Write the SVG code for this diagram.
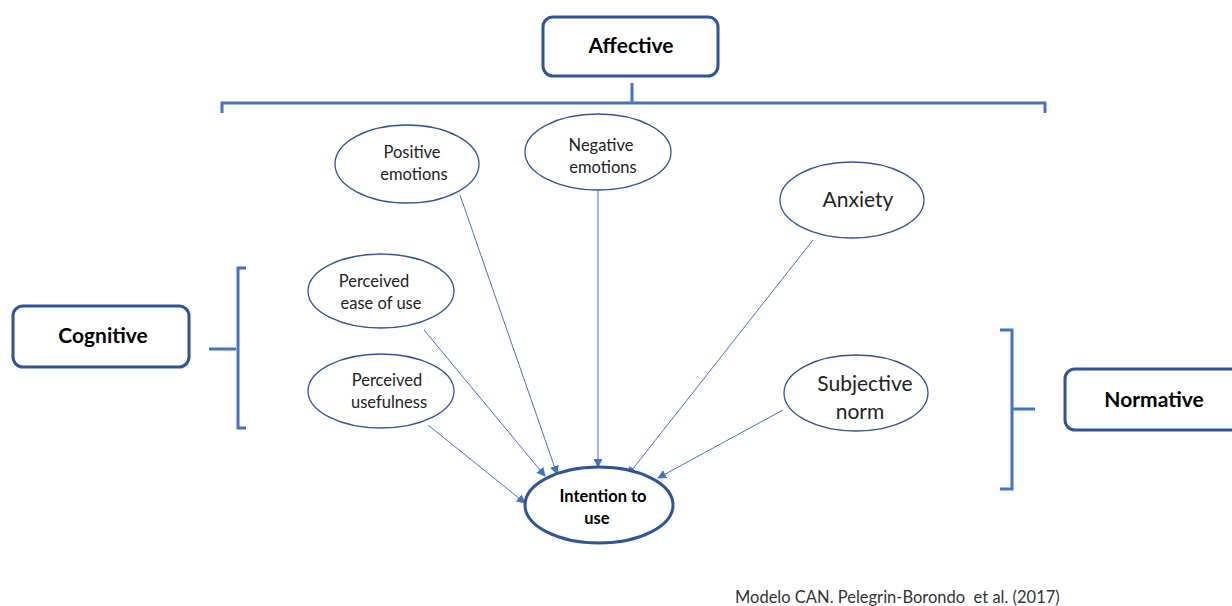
<svg xmlns="http://www.w3.org/2000/svg" width="1232" height="606" viewBox="0 0 1232 606">
  <style>
    .box { fill: #ffffff; stroke: #2f5597; stroke-width: 3; }
    .oval { fill: #ffffff; stroke: #2f5597; stroke-width: 1.3; }
    .goal { fill: #ffffff; stroke: #2f5597; stroke-width: 3; }
    .brace { fill: none; stroke: #4472c4; stroke-width: 3; }
    .edge { fill: none; stroke: #4472c4; stroke-width: 1; marker-end: url(#arrow); }
    .head { font-family: Lato, "Open Sans", "Liberation Sans", sans-serif; font-weight: bold; font-size: 21px; fill: #000; text-anchor: middle; }
    .lbl { font-family: Lato, "Open Sans", "Liberation Sans", sans-serif; font-size: 16.5px; fill: #222; text-anchor: middle; }
    .lbl-big { font-family: Lato, "Open Sans", "Liberation Sans", sans-serif; font-size: 21px; fill: #222; text-anchor: middle; }
    .lbl-bold { font-family: Lato, "Open Sans", "Liberation Sans", sans-serif; font-weight: bold; font-size: 16.5px; fill: #000; text-anchor: middle; }
    .note { font-family: Lato, "Open Sans", "Liberation Sans", sans-serif; font-size: 16.5px; fill: #333; }
  </style>
  <defs>
    <marker id="arrow" viewBox="0 0 10 10" refX="9" refY="5" markerWidth="9" markerHeight="9" markerUnits="userSpaceOnUse" orient="auto">
      <path d="M0,0 L10,5 L0,10 z" fill="#4472c4"/>
    </marker>
  </defs>

  <rect width="1232" height="606" fill="#ffffff"/>

  <!-- group brackets -->
  <g id="brackets">
    <path class="brace" d="M632,83 V103 M222,113 V103 H1045 V113"/>
    <path class="brace" d="M209,349 H236 M246,268 H238 V428 H246"/>
    <path class="brace" d="M1035,409 H1012 M1000,330 H1012 V489 H1000"/>
  </g>

  <!-- arrows into the target construct -->
  <g id="connectors">
    <line class="edge" x1="460" y1="195" x2="557" y2="474"/>
    <line class="edge" x1="598" y1="190" x2="598" y2="467"/>
    <line class="edge" x1="813" y1="240" x2="628" y2="475"/>
    <line class="edge" x1="783" y1="410" x2="658" y2="478"/>
    <line class="edge" x1="424" y1="330" x2="545" y2="476"/>
    <line class="edge" x1="428" y1="425" x2="525" y2="503"/>
  </g>

  <g id="affective">
    <rect class="box" x="543" y="17" width="175" height="59" rx="10"/>
    <text class="head" x="631" y="53">Affective</text>
  </g>
  <g id="cognitive">
    <rect class="box" x="13" y="306" width="176" height="61" rx="10"/>
    <text class="head" x="103" y="343">Cognitive</text>
  </g>
  <g id="normative">
    <rect class="box" x="1065" y="369" width="180" height="61" rx="10"/>
    <text class="head" x="1154" y="407">Normative</text>
  </g>

  <g id="positive-emotions">
    <ellipse class="oval" cx="407" cy="164" rx="72" ry="39"/>
    <text class="lbl" x="412" y="158">Positive</text>
    <text class="lbl" x="414" y="180">emotions</text>
  </g>
  <g id="negative-emotions">
    <ellipse class="oval" cx="598" cy="152" rx="73" ry="38"/>
    <text class="lbl" x="601" y="151">Negative</text>
    <text class="lbl" x="603" y="173">emotions</text>
  </g>
  <g id="anxiety">
    <ellipse class="oval" cx="852" cy="200" rx="72" ry="38"/>
    <text class="lbl-big" x="858" y="207">Anxiety</text>
  </g>
  <g id="subjective-norm">
    <ellipse class="oval" cx="856" cy="393" rx="72" ry="38"/>
    <text class="lbl-big" x="865" y="391">Subjective</text>
    <text class="lbl-big" x="860" y="419">norm</text>
  </g>
  <g id="ease-of-use">
    <ellipse class="oval" cx="381" cy="291" rx="73" ry="37"/>
    <text class="lbl" x="374" y="287">Perceived</text>
    <text class="lbl" x="381" y="309">ease of use</text>
  </g>
  <g id="usefulness">
    <ellipse class="oval" cx="381" cy="391" rx="73" ry="37"/>
    <text class="lbl" x="387" y="386">Perceived</text>
    <text class="lbl" x="389" y="408">usefulness</text>
  </g>
  <g id="intention-to-use">
    <ellipse class="goal" cx="599" cy="505" rx="74" ry="38"/>
    <text class="lbl-bold" x="603" y="502">Intention to</text>
    <text class="lbl-bold" x="597" y="524">use</text>
  </g>

  <text class="note" x="735" y="603" xml:space="preserve">Modelo CAN. Pelegrin-Borondo  et al. (2017)</text>
</svg>
